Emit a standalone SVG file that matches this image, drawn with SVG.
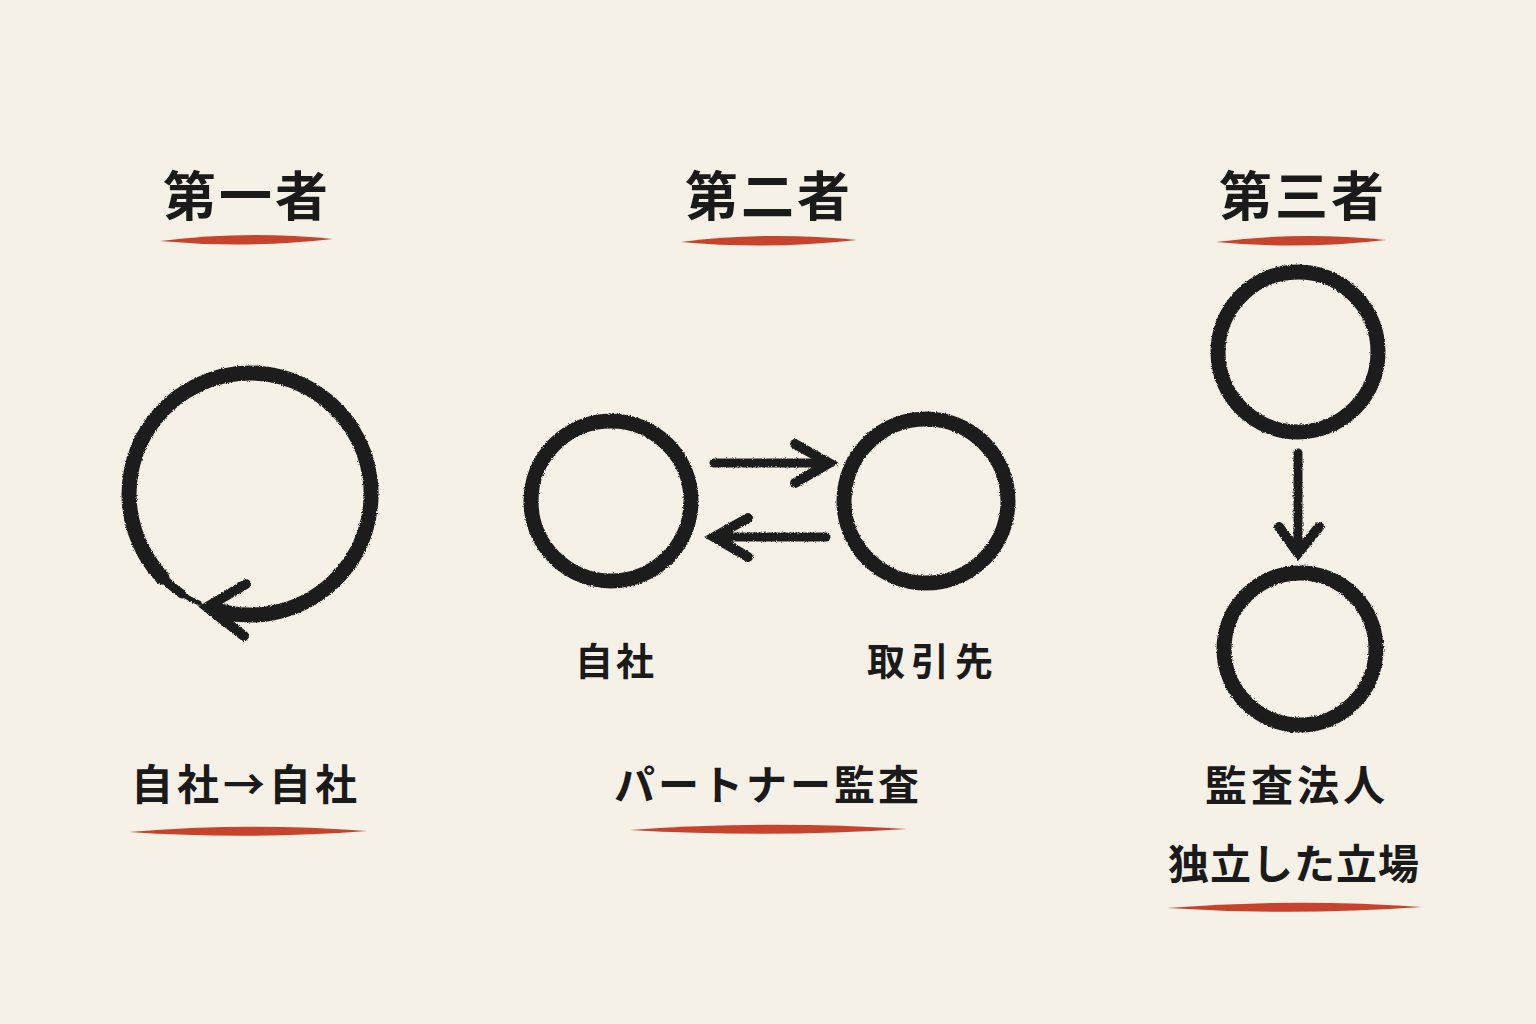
<svg xmlns="http://www.w3.org/2000/svg" width="1536" height="1024" viewBox="0 0 1536 1024">
<defs>
<filter id="brush" x="-10%" y="-10%" width="120%" height="120%">
<feTurbulence type="fractalNoise" baseFrequency="0.9" numOctaves="2" seed="3" result="n"/>
<feDisplacementMap in="SourceGraphic" in2="n" scale="3" xChannelSelector="R" yChannelSelector="G"/>
</filter>
<style>
.bg{fill:#f5f1e7}
.ink{fill:none;stroke:#1f1e1c;stroke-linecap:round;stroke-linejoin:round}
.ring{stroke-width:15}
.shaft{stroke-width:9}
.head{stroke-width:10;stroke-linecap:round;stroke-linejoin:miter}
.red{fill:#c8432c}
.title{font-family:"Noto Sans CJK JP","Noto Sans CJK SC",sans-serif;font-weight:700;font-size:53px;fill:#1a1a1a;text-anchor:middle;letter-spacing:3px}
.lbl{font-family:"Noto Sans CJK JP","Noto Sans CJK SC",sans-serif;font-weight:700;fill:#1a1a1a;text-anchor:middle}
</style>
</defs>
<rect class="bg" x="0" y="0" width="1536" height="1024"/>

<g id="col1-title">
<text class="title" x="247" y="216">第一者</text>
<path class="red" d="M160,241 Q246,230 333,239 Q246,249 160,241 Z"/>
</g>
<g id="col2-title">
<text class="title" x="769" y="216">第二者</text>
<path class="red" d="M681,242 Q768,231 857,240 Q768,250 681,242 Z"/>
</g>
<g id="col3-title">
<text class="title" x="1303" y="216">第三者</text>
<path class="red" d="M1216,242 Q1300,231 1386,240 Q1300,250 1216,242 Z"/>
</g>

<g id="node-self-cycle" filter="url(#brush)">
<path class="ink ring" d="M162,577 A121,121 0 1 1 228,613"/>
<path class="ink" stroke-width="9" d="M182,594 A121,121 0 0 1 162,577"/>
<path class="ink" stroke-width="5" d="M199,603 A121,121 0 0 1 180,593"/>
</g>

<g id="node-self" filter="url(#brush)">
<circle class="ink ring" cx="611" cy="501" r="80"/>
</g>
<g id="node-partner" filter="url(#brush)">
<circle class="ink ring" cx="926" cy="501" r="82"/>
</g>
<g id="node-auditor" filter="url(#brush)">
<circle class="ink ring" cx="1298" cy="352" r="80"/>
</g>
<g id="node-audited" filter="url(#brush)">
<circle class="ink ring" cx="1300" cy="649" r="76"/>
</g>

<g id="connectors" filter="url(#brush)">
<path class="ink" stroke-width="12" d="M232,612 L210,607"/>
<path class="ink head" stroke-width="12" d="M246,584 L207,607 L244,636"/>
<path class="ink shaft" d="M714,463 L824,463"/>
<path class="ink head" d="M795,444 L829,463 L795,483"/>
<path class="ink shaft" d="M826,537 L718,537"/>
<path class="ink head" d="M748,518 L714,537 L748,557"/>
<path class="ink shaft" d="M1298,453 L1298,548"/>
<path class="ink head" d="M1279,527 L1298,553 L1319,527"/>
</g>

<g id="label-self">
<text class="lbl" x="616" y="675" font-size="38" letter-spacing="3" font-weight="600">自社</text>
</g>
<g id="label-partner">
<text class="lbl" x="933" y="675" font-size="38" letter-spacing="6" font-weight="600">取引先</text>
</g>

<g id="caption-1">
<text class="lbl" x="246" y="800" font-size="42" letter-spacing="4">自社→自社</text>
<path class="red" d="M129,832 Q248,822 367,831 Q248,840 129,832 Z"/>
</g>
<g id="caption-2">
<text class="lbl" x="768" y="800" font-size="41" letter-spacing="3">パートナー監査</text>
<path class="red" d="M630,830 Q768,820 907,829 Q768,838 630,830 Z"/>
</g>
<g id="caption-3">
<text class="lbl" x="1297" y="801" font-size="42" letter-spacing="4">監査法人</text>
<text class="lbl" x="1294" y="879" font-size="41" letter-spacing="1">独立した立場</text>
<path class="red" d="M1167,908 Q1294,898 1422,907 Q1294,916 1167,908 Z"/>
</g>
</svg>
